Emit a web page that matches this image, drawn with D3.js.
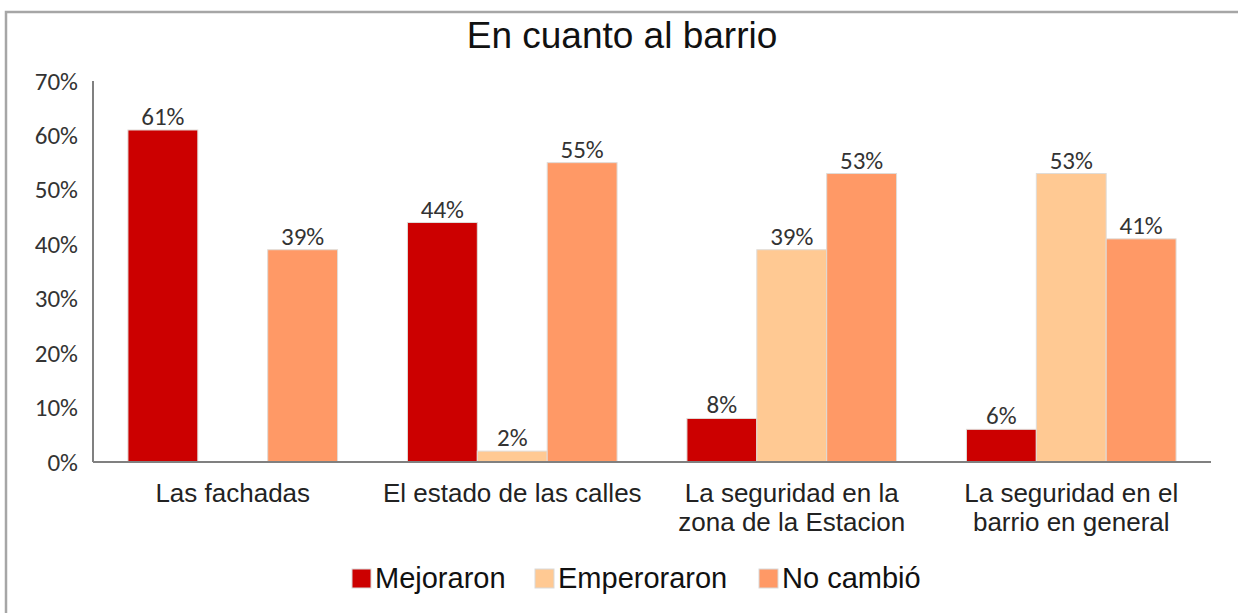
<!DOCTYPE html>
<html>
<head>
<meta charset="utf-8">
<script src="https://cdn.jsdelivr.net/npm/d3@7"></script>
<style>
  body { margin: 0; background: #fff; }
  svg { display: block; }
</style>
</head>
<body>
<div class="canvas"></div>
<script>
// data
const categories = [
  ['Las fachadas'],
  ['El estado de las calles'],
  ['La seguridad en la', 'zona de la Estacion'],
  ['La seguridad en el', 'barrio en general']
];
const series = ['Mejoraron', 'Emperoraron', 'No cambió'];
const mejoraron = [0.61, 0.44, 0.08, 0.06];
const emperoraron = [null, 0.02, 0.39, 0.53];
const noCambio = [0.39, 0.55, 0.53, 0.41];
const yTicks = [0, 0.1, 0.2, 0.3, 0.4, 0.5, 0.6, 0.7];
const colors = ['#cc0000', '#ffc993', '#ff9966'];

const W = 1238, H = 613;
const plot = { left: 93, right: 1211, top: 81, bottom: 462 };

const svg = d3.select('.canvas')
  .append('svg')
  .attr('width', W)
  .attr('height', H);

// chart frame (only left + top edges visible in the shot)
svg.append('path')
  .attr('d', `M6,${H} V12 H${W}`)
  .attr('fill', 'none')
  .attr('stroke', '#a6a6a6')
  .attr('stroke-width', 2.5);

svg.append('text')
  .attr('x', 622).attr('y', 48)
  .attr('text-anchor', 'middle')
  .style('font-family', 'Liberation Sans, Arial, sans-serif')
  .style('font-size', '37px')
  .attr('fill', '#111')
  .text('En cuanto al barrio');

const x0 = d3.scaleBand()
  .domain(d3.range(categories.length))
  .range([plot.left, plot.right])
  .padding(0);

const bw = x0.bandwidth();
const x1 = d3.scaleBand()
  .domain(series)
  .range([bw * 0.125, bw * 0.875])
  .padding(0);

const y = d3.scaleLinear()
  .domain([0, 0.7])
  .range([plot.bottom, plot.top]);

const values = [mejoraron, emperoraron, noCambio];
const rows = [];
series.forEach((s, si) => {
  values[si].forEach((v, ci) => {
    if (v != null) rows.push({ s, si, ci, v });
  });
});

// y axis labels
const yAxis = svg.append('g')
  .attr('transform', `translate(${plot.left},0)`)
  .call(d3.axisLeft(y).tickValues(yTicks).tickFormat(d3.format('.0%')).tickSize(0).tickPadding(15));
yAxis.select('.domain').remove();
yAxis.selectAll('text')
  .style('font-family', 'Carlito, Liberation Sans, sans-serif')
  .style('font-size', '25px')
  .attr('fill', '#333');

// bars
svg.append('g').selectAll('rect')
  .data(rows)
  .join('rect')
  .attr('x', d => x0(d.ci) + x1(d.s))
  .attr('y', d => y(d.v))
  .attr('width', x1.bandwidth())
  .attr('height', d => y(0) - y(d.v))
  .attr('fill', d => colors[d.si])
  .attr('stroke', '#e0dcd8')
  .attr('stroke-width', 1);

// value labels
svg.append('g').selectAll('text')
  .data(rows)
  .join('text')
  .attr('x', d => x0(d.ci) + x1(d.s) + x1.bandwidth() / 2)
  .attr('y', d => y(d.v) - 5)
  .attr('text-anchor', 'middle')
  .style('font-family', 'Carlito, Liberation Sans, sans-serif')
  .style('font-size', '25px')
  .attr('fill', '#333')
  .text(d => d3.format('.0%')(d.v));

// axis lines
svg.append('line')
  .attr('x1', plot.left).attr('x2', plot.left)
  .attr('y1', plot.top).attr('y2', plot.bottom)
  .attr('stroke', '#808080').attr('stroke-width', 2);
svg.append('line')
  .attr('x1', plot.left).attr('x2', plot.right)
  .attr('y1', plot.bottom).attr('y2', plot.bottom)
  .attr('stroke', '#808080').attr('stroke-width', 2);

// category labels
const cat = svg.append('g').selectAll('text')
  .data(categories)
  .join('text')
  .attr('x', (d, i) => x0(i) + bw / 2)
  .attr('y', 502)
  .attr('text-anchor', 'middle')
  .style('font-family', 'Liberation Sans, Arial, sans-serif')
  .style('font-size', '26px')
  .attr('fill', '#222');
cat.selectAll('tspan')
  .data(d => d)
  .join('tspan')
  .attr('x', function () { return d3.select(this.parentNode).attr('x'); })
  .attr('dy', (d, i) => i === 0 ? 0 : 29)
  .text(d => d);

// legend
const legendX = [352, 535, 759];
const lg = svg.append('g').selectAll('g')
  .data(series)
  .join('g')
  .attr('transform', (d, i) => `translate(${legendX[i]},569)`);
lg.append('rect')
  .attr('width', 19).attr('height', 19)
  .attr('fill', (d, i) => colors[i])
  .attr('stroke', '#d9d9d9');
lg.append('text')
  .attr('x', 23).attr('y', 19)
  .style('font-family', 'Liberation Sans, Arial, sans-serif')
  .style('font-size', '29px')
  .attr('fill', '#111')
  .text(d => d);
</script>
</body>
</html>
